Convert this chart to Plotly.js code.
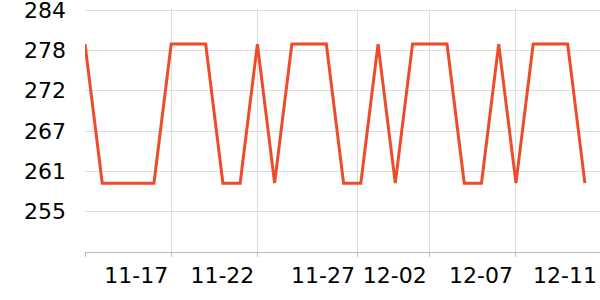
<!DOCTYPE html>
<html>
<head>
<meta charset="utf-8">
<script src="https://cdn.plot.ly/plotly-3.0.1.min.js"></script>
<style>html,body{margin:0;padding:0;background:#fff;}#chart{width:600px;height:300px;}</style>
</head>
<body>
<div id="chart"></div>
<script>
const dates = [
  "2023-11-12","2023-11-13","2023-11-14","2023-11-15","2023-11-16","2023-11-17",
  "2023-11-18","2023-11-19","2023-11-20","2023-11-21","2023-11-22","2023-11-23",
  "2023-11-24","2023-11-25","2023-11-26","2023-11-27","2023-11-28","2023-11-29",
  "2023-11-30","2023-12-01","2023-12-02","2023-12-03","2023-12-04","2023-12-05",
  "2023-12-06","2023-12-07","2023-12-08","2023-12-09","2023-12-10","2023-12-11"
];
const values = [
  279.1, 259.1, 259.1, 259.1, 259.1, 279.1,
  279.1, 279.1, 259.1, 259.1, 279.1, 259.1,
  279.1, 279.1, 279.1, 259.1, 259.1, 279.1,
  259.1, 279.1, 279.1, 279.1, 259.1, 259.1,
  279.1, 259.1, 279.1, 279.1, 279.1, 259.1
];
const xTickVals = ["2023-11-12","2023-11-17","2023-11-22","2023-11-27 20:00","2023-12-02","2023-12-07","2023-12-11 21:00"];
const xTickText = ["","11-17","11-22","11-27","12-02","12-07","12-11"];
const yTickVals = [255, 260.8, 266.6, 272.4, 278.2, 284];
const yTickText = ["255","261","267","272","278","284"];

const trace = {
  x: dates, y: values, type: "scatter", mode: "lines",
  line: {color: "#ee4b2b", width: 3},
  hoverinfo: "skip"
};
const layout = {
  width: 600, height: 300,
  margin: {l: 85, r: 0, t: 9, b: 48},
  paper_bgcolor: "#fff", plot_bgcolor: "#fff",
  showlegend: false,
  font: {family: "DejaVu Sans", size: 22, color: "#000"},
  xaxis: {
    type: "date",
    range: ["2023-11-12", "2023-12-11 21:00"],
    tickmode: "array", tickvals: xTickVals, ticktext: xTickText,
    showgrid: true, gridcolor: "#dddddd", gridwidth: 1,
    showline: true, linecolor: "#bbbbbb", linewidth: 1,
    ticks: "outside", ticklen: 4, tickcolor: "#bbbbbb",
    ticklabelshift: -35,
    zeroline: false,
    tickfont: {family: "DejaVu Sans", size: 22, color: "#000"}
  },
  yaxis: {
    range: [249.2, 284.15],
    tickmode: "array", tickvals: yTickVals, ticktext: yTickText,
    showgrid: true, gridcolor: "#dddddd", gridwidth: 1,
    showline: false, zeroline: false, ticks: "",
    ticklabelstandoff: 18,
    ticklabeloverflow: "allow",
    tickfont: {family: "DejaVu Sans", size: 22, color: "#000"}
  }
};
Plotly.newPlot("chart", [trace], layout, {displayModeBar: false, staticPlot: true});
</script>
</body>
</html>
